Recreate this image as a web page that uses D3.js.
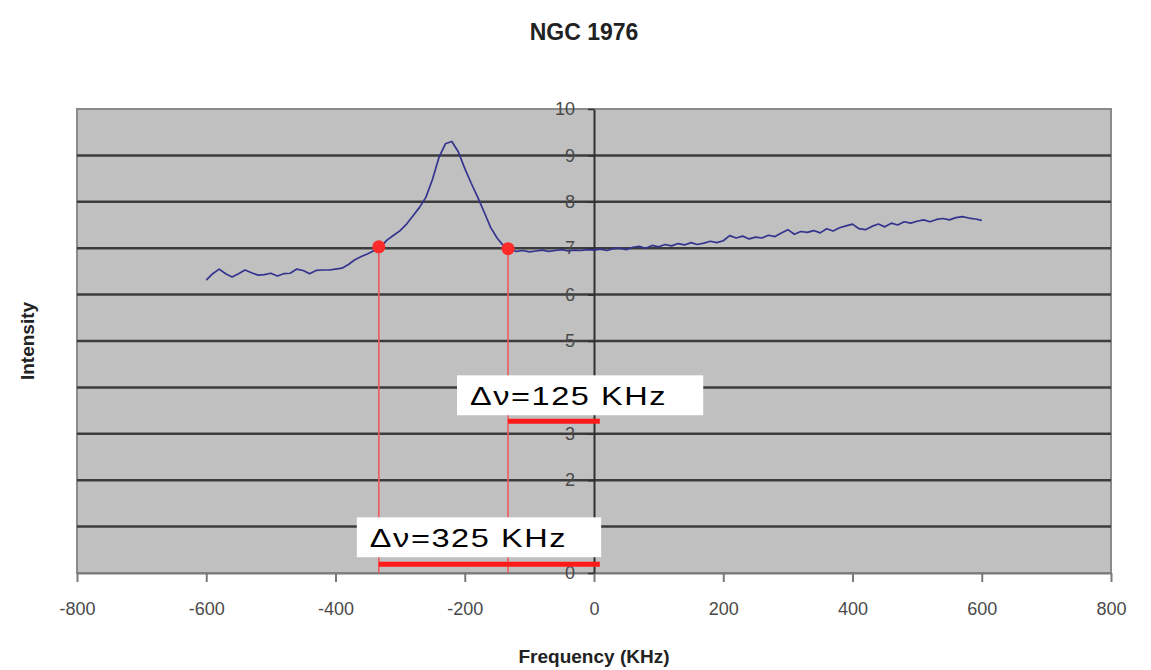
<!DOCTYPE html>
<html>
<head>
<meta charset="utf-8">
<script src="https://cdn.jsdelivr.net/npm/d3@7"></script>
<style>
  body { margin: 0; background: #fff; }
  svg { display: block; font-family: "Liberation Sans", Arial, sans-serif; }
</style>
</head>
<body>
<div id="chart"></div>
<script>
// spectrum, sampled every 10 kHz from -600 to 600
var freqStart = -600;
var freqStep = 10;
var intensity = [
  6.31, 6.45, 6.55, 6.45, 6.38, 6.45, 6.53, 6.47, 6.42, 6.43,
  6.46, 6.40, 6.45, 6.46, 6.55, 6.52, 6.45, 6.52, 6.53, 6.53,
  6.55, 6.57, 6.65, 6.75, 6.82, 6.88, 6.95, 7.03, 7.18, 7.28,
  7.38, 7.52, 7.70, 7.88, 8.10, 8.48, 8.95, 9.25, 9.30, 9.08,
  8.72, 8.40, 8.10, 7.78, 7.45, 7.22, 7.05, 6.97, 6.93, 6.95,
  6.92, 6.94, 6.96, 6.93, 6.95, 6.97, 6.94, 6.96, 6.95, 6.97,
  6.96, 6.98, 6.95, 6.99, 7.00, 6.97, 7.02, 7.04, 7.00, 7.06,
  7.03, 7.08, 7.05, 7.10, 7.07, 7.12, 7.08, 7.11, 7.15, 7.12,
  7.16, 7.27, 7.22, 7.26, 7.20, 7.24, 7.22, 7.28, 7.25, 7.33,
  7.40, 7.30, 7.36, 7.34, 7.38, 7.33, 7.42, 7.37, 7.44, 7.48,
  7.52, 7.42, 7.40, 7.47, 7.52, 7.46, 7.54, 7.50, 7.57, 7.54,
  7.58, 7.61, 7.57, 7.62, 7.64, 7.61, 7.66, 7.68, 7.65, 7.63,
  7.60
];

var xTicks = [-800, -600, -400, -200, 0, 200, 400, 600, 800];
var yTicks = [0, 1, 2, 3, 4, 5, 6, 7, 8, 9, 10];
// tick labels that sit under the annotation boxes (not visible in the original)
var hiddenYLabels = [4];

// half-maximum crossings and the widths marked on the chart
var halfPoints = [[-333, 7.03], [-133, 6.99]];
var widthBars = [
  {from: -133, to: 9, level: 3.27, label: "\u0394\u03bd=125 KHz", box: [-212, 169, 4.26, 3.40]},
  {from: -333, to: 9, level: 0.19, label: "\u0394\u03bd=325 KHz", box: [-367, 11, 1.20, 0.34]}
];

var W = 1151, H = 670;
var margin = {top: 109, right: 40, bottom: 97, left: 77};
var w = W - margin.left - margin.right;
var h = H - margin.top - margin.bottom;

var svg = d3.select("#chart").append("svg")
  .attr("width", W)
  .attr("height", H);

var x = d3.scaleLinear().domain([-800, 800]).range([0, w]);
var y = d3.scaleLinear().domain([0, 10]).range([h, 0]);

var g = svg.append("g").attr("transform", "translate(" + margin.left + "," + margin.top + ")");

// plot background
g.append("rect")
  .attr("width", w)
  .attr("height", h)
  .attr("fill", "#c0c0c0")
  .attr("stroke", "#8a8a8a")
  .attr("stroke-width", 2);

// horizontal gridlines
g.append("g")
  .attr("class", "grid")
  .selectAll("line")
  .data(yTicks.filter(function(d) { return d > 0 && d < 10; }))
  .enter()
  .append("line")
  .attr("x1", 0)
  .attr("x2", w)
  .attr("y1", function(d) { return y(d); })
  .attr("y2", function(d) { return y(d); })
  .attr("stroke", "#3c3c3c")
  .attr("stroke-width", 2.5);

// x axis at bottom
var xAxis = g.append("g")
  .attr("transform", "translate(0," + h + ")")
  .call(d3.axisBottom(x).tickValues(xTicks).tickSize(9).tickPadding(20).tickSizeOuter(0));
xAxis.select(".domain").attr("stroke", "#7a7a7a").attr("stroke-width", 2);
xAxis.selectAll(".tick line").attr("stroke", "#7a7a7a").attr("stroke-width", 2);
xAxis.selectAll("text")
  .attr("fill", "#4a4a4a")
  .attr("font-size", "18px")
  .text(function(d) { return d; });

// y axis crosses at 0 kHz
var yAxis = g.append("g")
  .attr("transform", "translate(" + x(0) + ",0)")
  .call(d3.axisLeft(y).tickValues(yTicks).tickSize(6).tickPadding(13).tickSizeOuter(0));
yAxis.select(".domain").attr("stroke", "#303030").attr("stroke-width", 2);
yAxis.selectAll(".tick line").attr("stroke", "#303030").attr("stroke-width", 1.5);
yAxis.selectAll("text")
  .attr("fill", "#4a4a4a")
  .attr("font-size", "18px");
yAxis.selectAll(".tick")
  .filter(function(d) { return hiddenYLabels.indexOf(d) >= 0; })
  .select("text").remove();

// spectrum line
var line = d3.line()
  .x(function(d, i) { return x(freqStart + i * freqStep); })
  .y(function(d) { return y(d); });

g.append("path")
  .datum(intensity)
  .attr("d", line)
  .attr("fill", "none")
  .attr("stroke", "#34348e")
  .attr("stroke-width", 1.7)
  .attr("stroke-linejoin", "round");

// drop lines from the half-maximum points
g.selectAll(".drop")
  .data(halfPoints)
  .enter()
  .append("line")
  .attr("x1", function(d) { return x(d[0]); })
  .attr("x2", function(d) { return x(d[0]); })
  .attr("y1", function(d) { return y(d[1]); })
  .attr("y2", y(0))
  .attr("stroke", "#f05a5a")
  .attr("stroke-width", 1.6);

// label boxes and width bars
widthBars.forEach(function(b) {
  g.append("rect")
    .attr("x", x(b.box[0]))
    .attr("y", y(b.box[2]))
    .attr("width", x(b.box[1]) - x(b.box[0]))
    .attr("height", y(b.box[3]) - y(b.box[2]))
    .attr("fill", "#ffffff");
  // the original lettering is wide, so stretch it a little
  g.append("text")
    .attr("transform", "translate(" + (x(b.box[0]) + 13) + "," + (y(b.box[2]) + 30) + ") scale(1.3,1)")
    .attr("font-size", "25px")
    .attr("letter-spacing", "1.2px")
    .attr("fill", "#000")
    .text(b.label);
  g.append("line")
    .attr("x1", x(b.from))
    .attr("x2", x(b.to))
    .attr("y1", y(b.level))
    .attr("y2", y(b.level))
    .attr("stroke", "#ff1a1a")
    .attr("stroke-width", 5);
});

g.selectAll(".dot")
  .data(halfPoints)
  .enter()
  .append("circle")
  .attr("cx", function(d) { return x(d[0]); })
  .attr("cy", function(d) { return y(d[1]); })
  .attr("r", 6.5)
  .attr("fill", "#ff2a2a");

// titles
svg.append("text")
  .attr("x", 584)
  .attr("y", 40)
  .attr("text-anchor", "middle")
  .attr("font-size", "23px")
  .attr("font-weight", "bold")
  .attr("fill", "#222")
  .text("NGC 1976");

svg.append("text")
  .attr("x", margin.left + w / 2)
  .attr("y", 663)
  .attr("text-anchor", "middle")
  .attr("font-size", "19px")
  .attr("font-weight", "bold")
  .attr("fill", "#222")
  .text("Frequency (KHz)");

svg.append("text")
  .attr("transform", "translate(34," + (margin.top + h / 2) + ") rotate(-90)")
  .attr("text-anchor", "middle")
  .attr("font-size", "19px")
  .attr("font-weight", "bold")
  .attr("fill", "#222")
  .text("Intensity");
</script>
</body>
</html>
